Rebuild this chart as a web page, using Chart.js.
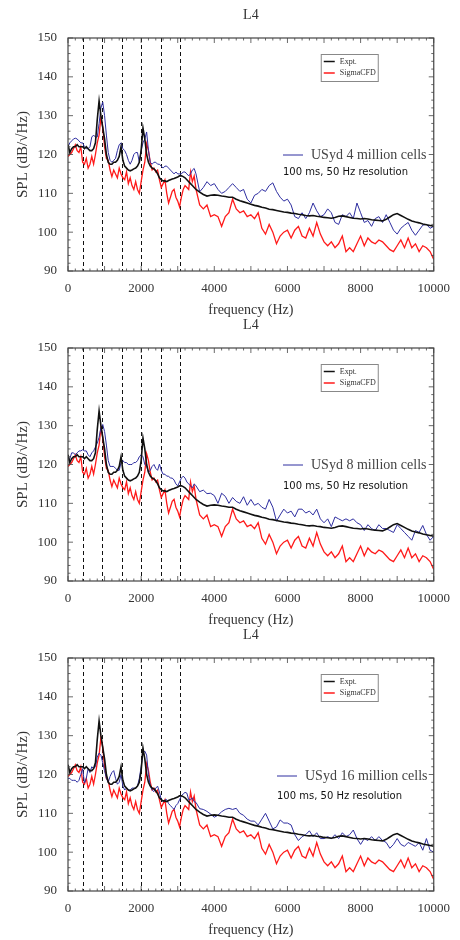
<!DOCTYPE html>
<html>
<head>
<meta charset="utf-8">
<script src="https://cdn.jsdelivr.net/npm/chart.js@4.4.1/dist/chart.umd.min.js"></script>
<style>
body{margin:0;background:#fff;}
#wrap{position:relative;width:460px;height:940px;}
canvas{display:block;position:absolute;left:0;}
</style>
</head>
<body>
<div id="wrap">
<canvas id="c1" width="460" height="320" style="top:0px"></canvas>
<canvas id="c2" width="460" height="320" style="top:310px"></canvas>
<canvas id="c3" width="460" height="320" style="top:620px"></canvas>
</div>
<script>
// frequencies (Hz) shared by every series
const freq = [0,50,100,150,200,250,300,350,400,450,500,550,600,650,700,750,800,850,900,950,
1000,1050,1100,1150,1200,1250,1300,1350,1400,1450,1500,1550,1600,1650,1700,1750,1800,1850,1900,1950,
2000,2050,2100,2150,2200,2250,2300,2350,2400,2450,2500,2550,2600,2650,2700,2750,2800,2850,2900,2950,
3000,3050,3100,3150,3200,3250,3300,3350,3400,3450,3500,
3600,3700,3800,3900,4000,4100,4200,4300,4400,4500,4600,4700,4800,4900,
5000,5100,5200,5300,5400,5500,5600,5700,5800,5900,6000,6100,6200,6300,6400,6500,6600,6700,6800,6900,
7000,7100,7200,7300,7400,7500,7600,7700,7800,7900,8000,8100,8200,8300,8400,8500,8600,8700,8800,8900,
9000,9100,9200,9300,9400,9500,9600,9700,9800,9900,10000];

const expt = [122.5,120.5,121.5,122,122,122.5,122,122,122,121.5,122,121.5,121,121,121.5,123,129,133.8,130,127,
124,120,118,117.5,117.5,118,118,118.5,119.5,122,118.5,117,116.5,116,115.8,116,116.3,116.5,117,118,
121,126.8,124,120,118,117,116.5,116.3,115.8,115,114,113.5,113.2,113.2,113,113.3,113.5,113.7,113.8,114,
114.2,114.5,114.5,114.3,114,113.5,113,112.5,112,111.5,111,
110.3,109.7,109.3,109.5,109.6,109.5,109.3,109.2,109,109,108.5,108.1,107.8,107.5,
107.2,106.9,106.7,106.4,106.2,105.9,105.8,105.6,105.4,105.2,105.1,104.9,104.8,104.6,104.5,104.3,104.2,104.3,104.1,104,
103.8,103.7,103.6,103.8,104.1,104.2,104,103.8,103.6,103.5,103.4,103.5,103.4,103.2,103.1,103,102.9,103.3,103.9,104.5,
104.8,104.3,103.8,103.3,102.9,102.6,102.4,102.1,101.9,101.7,101.5];

const sigma = [119.5,120,120.5,121.5,122.5,121,120.5,122,118,117.5,119,116.5,117.5,119.5,117.5,120,123,125,129.5,127,
122,119,118.5,116,114.3,116,115,114,116.5,115,114,113.5,115.5,112.5,114,112,111,113,111,110,
113,116,118,122.8,121,118,116,116.5,115.5,116,113.5,111.5,112.5,113.5,110,107.5,109,110.5,111,109,
108,106.5,109,111,112,111.5,111,115.5,113,114.5,111,
107,106,107,104,104.5,104,101.5,104,105,108.5,106,105,105.5,104,
104.5,103.5,105,101,99.5,102,100,97,99,100,100.5,98.5,100.5,101.5,99,98.5,101,99,102.5,99.5,
97.5,96.5,97.5,96,97,99,95,96,95,97,99,96.5,98.5,97.5,97,98,97.5,96.5,95.5,95,
96.5,98,96,98.5,96,97,95,96.5,96,95,93];

const usyd4 = [122,123,123.5,124,124.2,124,123.5,123,123,122,121.5,121.5,122,124.5,125,124.5,124.5,128,132,133.5,
130,125,120.5,118.5,118,118.5,119,121,122.5,123,121.5,121,120,118.5,117.5,118.5,120,120.5,120.5,118,
121,123,124,125.8,121,118,117.5,118,118,117.5,117.5,117,116.5,117,117,116.5,116,115.5,115,115.5,
115,115,115,115.5,115.5,115,114.5,115,116,116.4,115,
110.4,111.5,113,112,112.5,111,110,110.5,111.5,112.5,111.5,110.5,111,108.5,
107.5,109.5,110,111,110.5,112,112.7,110.5,109,108,108.5,107,104,103.5,105,103.5,105,107.5,105.5,104,
104.5,106,105,102.5,102,104.5,104,105,103.5,107.5,105,102.5,103,101.5,103.5,104,102.5,104.5,102.5,100.5,
99.5,101,101.8,102.5,100.5,99.2,100.5,101.8,102,101,101.5];

const usyd8 = [121,121.5,123,123,122.5,123,123.5,123.5,123.8,123.5,123.5,122.5,122,123,123.5,124.5,125.5,127,129.5,130.3,
128.5,125,121,119.5,119.5,119.5,119,118.5,118.5,120.5,121,120.5,120.5,120,120,120,120.5,120.5,121,122,
122.5,122,120,119.5,118,118.5,119.5,120,119,118.5,120.1,118.5,117.5,117.5,117,117,116.5,116.5,116,115,
114.5,115.5,116.5,117,116.5,115.5,115,114.5,114,115,114.5,
113,113.4,112.5,112.6,112,110,112.6,111.8,110,111.5,110.5,110,111.7,109.5,
111,109.5,110,109,108.5,111,109,105.4,107,108.5,107.5,108,106.5,108.5,108.5,107.5,108,107,108.5,106,
105,106,104,106.5,106,105.5,106,105.5,106,105,104.5,103,104.5,103.5,103,104.5,103.5,103.5,103,102.5,
104.5,103.5,102.5,101.5,100.5,103,102.5,104.3,102,100.5,101.5];

const usyd16 = [119,119,118.5,118.5,118.5,118,118.5,120,121.5,117.8,119,121.5,120.5,122,121.5,122,124.5,125.5,125,123,
121,119,118,119.5,120.5,121,119,117.5,118,120,117,116,116.5,116,116,116.5,116.5,116.5,117,119,
122,125.5,126,125,120,117,116,115.6,116.5,117,115.5,113.5,113,113.5,113.5,112.5,112,111.5,111,112,
112.5,113.5,114.5,115,115.4,115.2,113.5,113.5,114,113,112.8,
111.2,111,110.5,109.8,109,109.5,110.4,111,111.3,111,111.3,110,109.5,108.5,
108,108,107,108.5,110,108,106,106.5,108.3,107.5,107.5,107,104.5,103,104,104.5,105.5,104,105,103.5,
103.5,104,103.5,104.5,103.5,105,104,104.5,105.7,103.5,102,103.5,103,104,103,104,103,102.5,101,102,
103.5,102,101.5,102.5,102,101.5,102.5,100.5,103.5,100.5,100];

// dashed reference frequencies (Hz)
const modeLines = [400, 940, 1470, 2000, 2540, 3060];

const panels = [
  {id:'c1', values:usyd4,  label:'USyd 4 million cells',  lx:283, ly:155, rx:283, ry:172},
  {id:'c2', values:usyd8,  label:'USyd 8 million cells',  lx:283, ly:155, rx:283, ry:176},
  {id:'c3', values:usyd16, label:'USyd 16 million cells', lx:277, ly:156, rx:277, ry:176}
];

const SERIF = '"Liberation Serif", "DejaVu Serif", serif';
const BLUE = '#2e2ea0';

const decor = {
  id: 'decor',
  beforeDatasetsDraw(chart){
    const ctx = chart.ctx, a = chart.chartArea, x = chart.scales.x;
    ctx.save();
    ctx.strokeStyle = '#111';
    ctx.lineWidth = 1;
    ctx.setLineDash([4, 3]);
    modeLines.forEach(f => {
      const px = Math.round(x.getPixelForValue(f)) + 0.5;
      ctx.beginPath(); ctx.moveTo(px, a.top); ctx.lineTo(px, a.bottom); ctx.stroke();
    });
    ctx.restore();
  },
  afterDraw(chart){
    const ctx = chart.ctx, a = chart.chartArea, x = chart.scales.x, y = chart.scales.y;
    const p = chart.options.plugins.decor;
    ctx.save();
    // frame
    ctx.strokeStyle = '#444';
    ctx.lineWidth = 1.2;
    ctx.strokeRect(a.left, a.top, a.right - a.left, a.bottom - a.top);
    // inward ticks
    ctx.lineWidth = 0.8;
    ctx.beginPath();
    for (let f = 0; f <= 10000; f += 200) {
      const px = x.getPixelForValue(f), len = f % 1000 === 0 ? 5 : 2.5;
      ctx.moveTo(px, a.top); ctx.lineTo(px, a.top + len);
      ctx.moveTo(px, a.bottom); ctx.lineTo(px, a.bottom - len);
    }
    for (let v = 90; v <= 150; v += 2) {
      const py = y.getPixelForValue(v), len = v % 10 === 0 ? 5 : 2.5;
      ctx.moveTo(a.left, py); ctx.lineTo(a.left + len, py);
      ctx.moveTo(a.right, py); ctx.lineTo(a.right - len, py);
    }
    ctx.stroke();
    // title and axis titles
    ctx.fillStyle = '#333';
    ctx.font = '14px ' + SERIF;
    ctx.textAlign = 'center'; ctx.textBaseline = 'middle';
    ctx.fillText('L4', (a.left + a.right) / 2, 15);
    ctx.fillText('frequency (Hz)', (a.left + a.right) / 2, a.bottom + 39);
    ctx.save();
    ctx.translate(23, (a.top + a.bottom) / 2);
    ctx.rotate(-Math.PI / 2);
    ctx.font = '15px ' + SERIF;
    ctx.fillText('SPL (dB/√Hz)', 0, 0);
    ctx.restore();
    // boxed legend for Expt. / SigmaCFD
    const bx = a.right - 113, by = a.top + 16;
    ctx.fillStyle = '#fff';
    ctx.fillRect(bx, by, 57, 27);
    ctx.strokeStyle = '#888'; ctx.lineWidth = 1;
    ctx.strokeRect(bx + 0.5, by + 0.5, 57, 27);
    ctx.font = '8px ' + SERIF; ctx.textAlign = 'left';
    [0, 1].forEach(i => {
      const ds = chart.data.datasets[i], ly = by + 7.5 + i * 11.5;
      ctx.strokeStyle = ds.borderColor; ctx.lineWidth = 1.5;
      ctx.beginPath(); ctx.moveTo(bx + 3, ly); ctx.lineTo(bx + 14, ly); ctx.stroke();
      ctx.fillStyle = '#333';
      ctx.fillText(ds.label, bx + 19, ly);
    });
    // USyd label with line sample
    const u = chart.data.datasets[2];
    ctx.strokeStyle = u.borderColor; ctx.lineWidth = 1;
    ctx.beginPath(); ctx.moveTo(p.lx, p.ly); ctx.lineTo(p.lx + 20, p.ly); ctx.stroke();
    ctx.fillStyle = '#444';
    ctx.font = '14px ' + SERIF;
    ctx.fillText(u.label, p.lx + 28, p.ly);
    ctx.fillStyle = '#111';
    ctx.font = '10px "DejaVu Sans", sans-serif';
    ctx.fillText('100 ms, 50 Hz resolution', p.rx, p.ry);
    ctx.restore();
  }
};

function pts(vals){ return freq.map((f, i) => ({x: f, y: vals[i]})); }

panels.forEach(p => {
  new Chart(document.getElementById(p.id), {
    type: 'line',
    data: {
      datasets: [
        {label: 'Expt.', data: pts(expt), borderColor: '#111', borderWidth: 1.6, order: 1},
        {label: 'SigmaCFD', data: pts(sigma), borderColor: '#ff1a1a', borderWidth: 1.3, order: 3},
        {label: p.label, data: pts(p.values), borderColor: BLUE, borderWidth: 1, order: 2}
      ]
    },
    options: {
      responsive: false,
      animation: false,
      devicePixelRatio: 1,
      elements: {point: {radius: 0}, line: {tension: 0}},
      layout: {padding: {top: 38, right: 16, left: 0, bottom: 10}},
      plugins: {
        legend: {display: false},
        tooltip: {enabled: false},
        decor: {lx: p.lx, ly: p.ly, rx: p.rx, ry: p.ry}
      },
      scales: {
        x: {
          type: 'linear', min: 0, max: 10000,
          grid: {display: false, drawTicks: false}, border: {display: false},
          ticks: {stepSize: 2000, color: '#333', font: {family: SERIF, size: 13}, padding: 10, maxRotation: 0,
                  callback: v => String(v)},
          afterFit(s){ s.height = 39; }
        },
        y: {
          min: 90, max: 150,
          grid: {display: false, drawTicks: false}, border: {display: false},
          ticks: {stepSize: 10, color: '#333', font: {family: SERIF, size: 13}, padding: 11,
                  callback: v => String(v)},
          afterFit(s){ s.width = 68; }
        }
      }
    },
    plugins: [decor]
  });
});
</script>
</body>
</html>
